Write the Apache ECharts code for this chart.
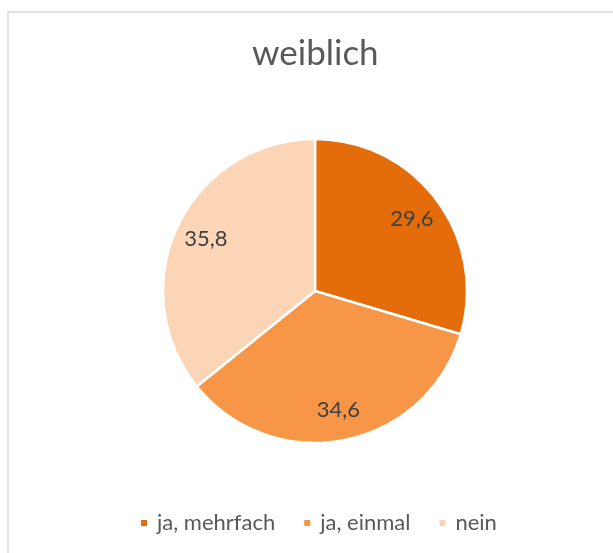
<!DOCTYPE html>
<html>
<head>
    <meta charset="UTF-8">
    <title>weiblich</title>
    <script src="https://cdn.jsdelivr.net/npm/echarts@6/dist/echarts.min.js"></script>
    <style>
        html, body { margin: 0; padding: 0; background: #fff; }
        #chart { width: 613px; height: 553px; }
    </style>
</head>
<body>
<div id="chart"></div>
<script>
    // data
    var categories = ["ja, mehrfach", "ja, einmal", "nein"];
    var values = [29.6, 34.6, 35.8];
    var colors = ["#E46C0A", "#F79646", "#FBD5B5"];

    var font = "Lato, 'Open Sans', sans-serif";

    var pieData = categories.map(function (name, i) {
        return { name: name, value: values[i], itemStyle: { color: colors[i] } };
    });
    var labelData = categories.map(function (name, i) {
        return { name: name, value: values[i] };
    });

    var chart = echarts.init(document.getElementById('chart'), null, { renderer: 'canvas' });
    chart.setOption({
        backgroundColor: '#fff',
        animation: false,
        title: {
            text: 'weiblich',
            left: 252,
            top: 36,
            padding: 0,
            textStyle: { fontFamily: font, fontSize: 35, fontWeight: 'normal', color: '#595959' }
        },
        legend: {
            data: categories,
            top: 512,
            left: 139,
            padding: 0,
            icon: 'rect',
            itemWidth: 8,
            itemHeight: 8,
            itemGap: 27,
            textStyle: { fontFamily: font, fontSize: 22, color: '#595959', padding: [0, 0, 0, 4] }
        },
        graphic: [{
            type: 'rect',
            shape: { x: 8, y: 12, width: 640, height: 600 },
            style: { fill: null, stroke: '#d9d9d9', lineWidth: 1.5 },
            silent: true
        }],
        series: [{
            type: 'pie',
            center: [315, 291],
            radius: [0, 152],
            startAngle: 90,
            clockwise: true,
            data: pieData,
            itemStyle: { borderColor: '#fff', borderWidth: 2.5 },
            label: { show: false },
            labelLine: { show: false },
            emphasis: { disabled: true }
        }, {
            // label ring so the numbers sit at about 3/4 of the radius
            type: 'pie',
            center: [315, 291],
            radius: [84, 152],
            startAngle: 90,
            clockwise: true,
            silent: true,
            data: labelData,
            itemStyle: { color: 'rgba(0,0,0,0)', borderWidth: 0 },
            label: {
                show: true,
                position: 'inside',
                formatter: function (p) { return String(p.value).replace('.', ','); },
                fontFamily: font,
                fontSize: 22,
                color: '#404040'
            },
            labelLine: { show: false },
            emphasis: { disabled: true }
        }]
    });
</script>
</body>
</html>
